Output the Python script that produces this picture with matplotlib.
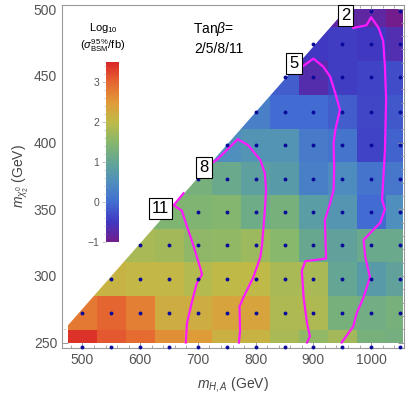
import numpy as np
import matplotlib
matplotlib.use("Agg")
import matplotlib.pyplot as plt
from matplotlib.colors import LinearSegmentedColormap, Normalize
from matplotlib.patches import Polygon
from matplotlib.ticker import MultipleLocator

plt.rcParams['font.family'] = ['Liberation Sans', 'DejaVu Sans']
plt.rcParams['mathtext.fontset'] = 'custom'
plt.rcParams['mathtext.rm'] = 'Liberation Sans'
plt.rcParams['mathtext.it'] = 'Liberation Sans:italic'
plt.rcParams['mathtext.bf'] = 'Liberation Sans:bold'

# grid of benchmark points
m_HA = [500, 550, 600, 650, 700, 750, 800, 850, 900, 950, 1000, 1050]
m_chi2 = [247, 272, 298, 323, 348, 373, 398, 423, 449, 474, 499]

nan = np.nan
# log10(sigma_95%/fb), rows = m_chi2, cols = m_HA (nan = not allowed)
log_sigma = [
    [3.4, 3.1, 2.95, 2.6, 2.45, 2.15, 2.1, 1.8, 1.6, 1.75, 1.3, 1.25],
    [2.8, 3.0, 2.75, 2.2, 2.2, 2.35, 2.35, 1.85, 1.85, 1.3, 1.2, 1.3],
    [nan, 2.1, 2.05, 2.05, 1.9, 2.0, 2.0, 1.8, 1.8, 1.0, 0.75, 0.9],
    [nan, nan, 1.8, 1.75, 1.55, 1.6, 1.7, 1.5, 1.05, 0.9, 1.1, 1.1],
    [nan, nan, nan, 1.4, 1.4, 1.45, 1.15, 1.3, 0.8, 0.65, 0.0, 0.5],
    [nan, nan, nan, nan, 1.3, 1.1, 0.85, 0.75, 0.25, 0.45, 0.1, 0.15],
    [nan, nan, nan, nan, nan, 0.5, 0.6, 0.6, 0.2, 0.1, -0.4, -0.1],
    [nan, nan, nan, nan, nan, nan, 0.25, 0.0, 0.0, -0.15, -0.35, -0.2],
    [nan, nan, nan, nan, nan, nan, nan, -0.15, -0.7, -0.45, -0.4, -0.3],
    [nan, nan, nan, nan, nan, nan, nan, nan, -0.5, -0.45, -0.5, -0.65],
    [nan, nan, nan, nan, nan, nan, nan, nan, nan, nan, -0.8, -1.0],
]

# exclusion contours for tan(beta) = 2, 5, 8, 11
c2_x = [969, 992, 1000, 1013, 1021, 1024, 1026, 1024, 1021, 1019, 1024, 1016, 987, 990, 998, 987, 975, 969, 949]
c2_y = [486, 488, 494, 486, 476, 457, 432, 394, 372, 357, 350, 340, 327, 314, 299, 284, 272, 262, 250]
c5_x = [881, 900, 917, 929, 938, 946, 938, 935, 936, 935, 929, 920, 922, 886, 880, 883, 889, 894, 889]
c5_y = [457, 463, 457, 449.5, 437, 424.5, 409.5, 399.5, 382, 364.5, 354.5, 342, 313, 311, 304, 284, 264.5, 254.5, 250]
c8_x = [724, 735, 756, 769, 787, 808, 816, 818, 816, 811, 808, 796, 779, 772, 773, 771]
c8_y = [384.5, 388, 397, 402.5, 398, 387, 377, 364.5, 349.5, 323, 314, 299, 284, 277, 259, 250]
c11_x = [675, 658, 672, 678, 692, 704, 707, 698, 689, 681, 679]
c11_y = [362, 353, 349, 341, 323, 306, 301, 294.5, 279.5, 264.5, 250]
contours = [(c2_x, c2_y), (c5_x, c5_y), (c8_x, c8_y), (c11_x, c11_y)]
contour_labels = ['2', '5', '8', '11']
label_x = [956, 866.5, 710.6, 635.7]
label_y = [495, 459.5, 381, 350.7]

# kinematic boundary of the scanned region
edge_x0, edge_y0, edge_slope = 475, 263, 0.4918

rainbow = LinearSegmentedColormap.from_list('mma_rainbow', [
    (0.000, (0.45, 0.11, 0.55)),
    (0.111, (0.25, 0.22, 0.76)),
    (0.222, (0.26, 0.43, 0.82)),
    (0.333, (0.31, 0.56, 0.74)),
    (0.444, (0.39, 0.65, 0.58)),
    (0.556, (0.53, 0.72, 0.42)),
    (0.667, (0.75, 0.73, 0.28)),
    (0.778, (0.88, 0.60, 0.22)),
    (0.889, (0.90, 0.40, 0.19)),
    (1.000, (0.86, 0.15, 0.16)),
])
norm = Normalize(-1, 3.5)

fig = plt.figure(figsize=(4.09, 3.98), dpi=100)
ax = fig.add_axes([62 / 409, 1 - 348 / 398, 342 / 409, 343 / 398])

xs = np.array(m_HA, float)
ys = np.array(m_chi2, float)
z = np.array(log_sigma)

# cell edges, heat map clipped to the scan box
xe = np.concatenate([[xs[0] - 25], (xs[:-1] + xs[1:]) / 2, [xs[-1] + 25]])
ye = np.concatenate([[ys[0] - 12.5], (ys[:-1] + ys[1:]) / 2, [ys[-1] + 12.5]])
xe = np.clip(xe, 475, 1055)
ye = np.clip(ye, 250, 500)

# cells cut by the boundary take the colour of the first point in the row
zfill = z.copy()
for row in zfill:
    first = row[~np.isnan(row)][0]
    row[np.isnan(row)] = first

ax.pcolormesh(xe, ye, zfill, cmap=rainbow, norm=norm, shading='flat', zorder=1)

xlim = (464.5, 1057)
ylim = (245.9, 503.2)
ax.set_xlim(xlim)
ax.set_ylim(ylim)

y_left = edge_y0 + edge_slope * (xlim[0] - edge_x0)
x_top = edge_x0 + (ylim[1] - edge_y0) / edge_slope
ax.add_patch(Polygon([(xlim[0], y_left), (x_top, ylim[1]), (xlim[0], ylim[1])],
                     closed=True, fc='white', ec='none', zorder=2))

# benchmark points
gx, gy = np.meshgrid(xs, ys)
ok = ~np.isnan(z)
ax.plot(gx[ok], gy[ok], 'o', color='#0a0a9a', ms=2.8, mew=0, zorder=4, clip_on=False)

for (cx, cy), lab, lx, ly in zip(contours, contour_labels, label_x, label_y):
    ax.plot(cx, cy, color='#ff1aff', lw=1.6, zorder=3)
    ax.text(lx, ly, lab, fontsize=12, ha='center', va='center', zorder=5,
            bbox=dict(boxstyle='square,pad=0.18', fc='white', ec='black', lw=0.8))

ax.text(727, 485.2, r'Tan$\beta$=', fontsize=10, ha='center', va='center')
ax.text(735.7, 470.2, '2/5/8/11', fontsize=10, ha='center', va='center')

# frame
for s in ax.spines.values():
    s.set_color('#9a9a9a')
    s.set_linewidth(0.8)
ax.xaxis.set_major_locator(MultipleLocator(100))
ax.xaxis.set_minor_locator(MultipleLocator(20))
ax.yaxis.set_major_locator(MultipleLocator(50))
ax.yaxis.set_minor_locator(MultipleLocator(10))
ax.tick_params(which='both', direction='in', top=True, right=True, color='#9a9a9a',
               labelcolor='#555555', labelsize=10)
ax.tick_params(which='major', length=4.5, width=0.7)
ax.tick_params(which='minor', length=2.5, width=0.6)
ax.set_xlabel(r'$m_{H,A}$ (GeV)', fontsize=10, color='#444444', labelpad=6)
ax.set_ylabel(r'$m_{\chi_2^0}$ (GeV)', fontsize=10, color='#444444', labelpad=2)

# colour bar
cax = fig.add_axes([106 / 409, 1 - 242 / 398, 13 / 409, 180 / 398])
sm = plt.cm.ScalarMappable(norm=norm, cmap=rainbow)
cb = fig.colorbar(sm, cax=cax)
cb.outline.set_visible(False)
cax.yaxis.set_ticks_position('left')
cax.yaxis.set_label_position('left')
cb.set_ticks([-1, 0, 1, 2, 3])
cb.ax.yaxis.set_minor_locator(MultipleLocator(0.2))
cb.ax.set_yticklabels(['\u22121', '0', '1', '2', '3'])
cax.tick_params(which='both', labelsize=7.5, labelcolor='#555555', color='#bbbbbb', pad=2)
cax.tick_params(which='major', length=3, width=0.6)
cax.tick_params(which='minor', length=1.8, width=0.5)
fig.text(103 / 409, 1 - 28 / 398, r'Log$_{10}$', fontsize=8, ha='center', va='center')
fig.text(103 / 409, 1 - 46 / 398, r'($\sigma^{95\,\%}_{\mathrm{BSM}}$/fb)', fontsize=8,
         ha='center', va='center')

fig.savefig('out.png', dpi=100)
